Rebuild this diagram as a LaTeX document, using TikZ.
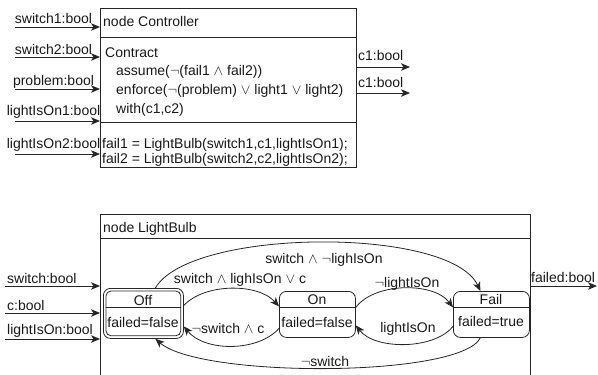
\documentclass[tikz,border=0pt]{standalone}
\usepackage{fontspec}
\setmainfont{Liberation Sans}
\usetikzlibrary{arrows.meta,calc}
\begin{document}
\begin{tikzpicture}[x=1pt,y=-1pt,
  every node/.style={font=\fontsize{14}{15}\selectfont, inner sep=0pt, text=black!90},
  line/.style={line width=0.8pt, draw=black!85},
  arr/.style={line, -{Stealth[length=9pt,width=7.5pt,inset=2.5pt]}},
  box/.style={line, anchor=north west},
  state/.style={line, rounded corners=7pt, anchor=north west},
  tl/.style={anchor=base west},
  cl/.style={anchor=base}]
\useasboundingbox (0,0) rectangle (598,375);

% ---------- Controller ----------
\node[box, minimum width=256pt, minimum height=159pt] (ctrl) at (100,8) {};
\draw[line] (ctrl.west |- 0,37) -- (ctrl.east |- 0,37);
\draw[line] (ctrl.west |- 0,122) -- (ctrl.east |- 0,122);
\node[tl] (ct) at (103,26) {node Controller};
\node[tl] (cc) at (105,57) {Contract};
\node[tl] (ca) at (116,75) {assume($\neg$(fail1 $\wedge$ fail2))};
\node[tl] (ce) at (116,94) {enforce($\neg$(problem) $\vee$ light1 $\vee$ light2)};
\node[tl] (cw) at (116,113) {with(c1,c2)};
\node[tl] (cf1) at (102,148) {fail1 = LightBulb(switch1,c1,lightIsOn1);};
\node[tl] (cf2) at (102,163) {fail2 = LightBulb(switch2,c2,lightIsOn2);};

\coordinate (i1) at (15,27);
\coordinate (i2) at (15,57);
\coordinate (i3) at (15,89);
\coordinate (i4) at (15,121);
\coordinate (i5) at (15,154);
\foreach \c in {i1,i2,i3,i4,i5} \draw[arr] (\c) -- (\c -| ctrl.west);
\node[cl] (l1) at (53.5,23) {switch1:bool};
\node[cl] (l2) at (53.5,54) {switch2:bool};
\node[cl] (l3) at (53.5,85) {problem:bool};
\node[cl] (l4) at (53.5,115) {lightIsOn1:bool};
\node[cl] (l5) at (53.5,148) {lightIsOn2:bool};

\coordinate (o1) at (410,67);
\coordinate (o2) at (410,93);
\draw[arr] (o1 -| ctrl.east) -- (o1);
\draw[arr] (o2 -| ctrl.east) -- (o2);
\node[tl] (ol1) at (358,60) {c1:bool};
\node[tl] (ol2) at (358,87) {c1:bool};

% ---------- LightBulb ----------
\coordinate (lbnw) at (100,214);
\coordinate (lbne) at (530,214);
\draw[line] (100,377) -- (lbnw) -- (lbne) -- (530,377);
\draw[line] (100,238) -- (530,238);
\node[tl] (lbt) at (103,232) {node LightBulb};

\coordinate (j1) at (5,286);
\coordinate (j2) at (5,313);
\coordinate (j3) at (5,339);
\foreach \c in {j1,j2,j3} \draw[arr] (\c) -- (\c -| lbnw);
\node[tl] (m1) at (7,283) {switch:bool};
\node[tl] (m2) at (7,310) {c:bool};
\node[tl] (m3) at (7,334) {lightIsOn:bool};
\coordinate (fo) at (597,286);
\draw[arr] (fo -| lbne) -- (fo);
\node[tl] (fol) at (531,282) {failed:bool};

% states
\node[state, minimum width=80pt, minimum height=50pt] (off) at (103,288) {};
\draw[line, rounded corners=5pt] ($(off.north west)+(3,3)$) rectangle ($(off.south east)+(-3,-3)$);
\draw[line] ($(off.west |- 0,307)+(3,0)$) -- ($(off.east |- 0,307)+(-3,0)$);
\node[cl] (offa) at (143,305) {Off};
\node[cl] (offb) at (143,327) {failed=false};

\node[state, minimum width=76pt, minimum height=46pt] (on) at (279,291) {};
\draw[line] (on.west |- 0,307) -- (on.east |- 0,307);
\node[cl] (ona) at (317,304) {On};
\node[cl] (onb) at (317,327) {failed=false};

\node[state, minimum width=76pt, minimum height=46pt] (fail) at (453,291) {};
\draw[line] (fail.west |- 0,307) -- (fail.east |- 0,307);
\node[cl] (faila) at (491,304) {Fail};
\node[cl] (failb) at (491,326) {failed=true};

% transitions
\draw[arr] ($(off.north)+(12,0)$) .. controls (190,228) and (450,226) .. ($(fail.north)+(-11,0)$);
\draw[arr] ($(off.east)+(0,-8)$) .. controls (205,283) and (258,283) .. ($(on.west)+(0,-8)$);
\draw[arr] ($(on.west)+(0,14)$) .. controls (258,352) and (205,352) .. ($(off.east)+(0,13)$);
\draw[arr] ($(on.east)+(0,-7)$) .. controls (375,282) and (434,282) .. ($(fail.west)+(0,-7)$);
\draw[arr] ($(fail.west)+(0,12)$) .. controls (434,350) and (375,350) .. ($(on.east)+(0,11)$);
\draw[arr] ($(fail.south)+(-11,0)$) .. controls (460,378) and (200,378) .. ($(off.south)+(12,0)$);

\node[cl] (t1) at (324,263) {switch $\wedge$ $\neg$lighIsOn};
\node[cl] (t2) at (240,283) {switch $\wedge$ lighIsOn $\vee$ c};
\node[cl] (t3) at (228,333) {$\neg$switch $\wedge$ c};
\node[cl] (t4) at (407,287) {$\neg$lightIsOn};
\node[cl] (t5) at (408,332) {lightIsOn};
\node[cl] (t6) at (325,366) {$\neg$switch};
\end{tikzpicture}
\end{document}
